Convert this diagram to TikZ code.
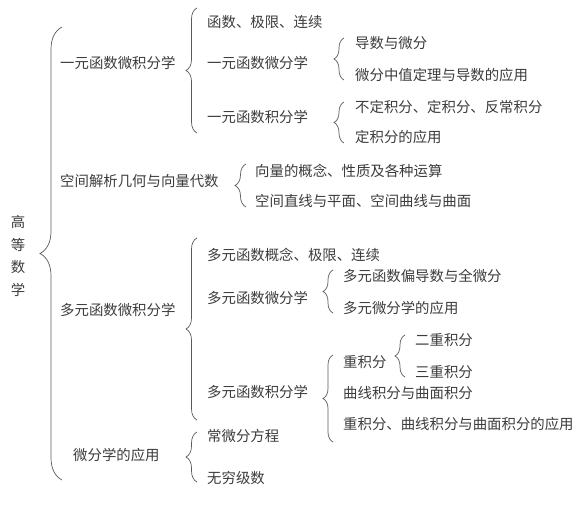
\documentclass[tikz,border=0pt]{standalone}
\usepackage{fontspec}
\newfontfamily\cjk{Noto Sans CJK SC}
\usetikzlibrary{decorations.pathreplacing, calc}
\definecolor{textGray}{RGB}{60, 60, 60}
\definecolor{braceGray}{RGB}{90, 90, 90}
\tikzset{
    % Text Styles
    item/.style={
        anchor=west,
        inner sep=0pt,
        font=\cjk\fontsize{14.4pt}{16pt}\selectfont,
        text=textGray
    },
    rootItem/.style={
        item, anchor=center, align=center,
        font=\cjk\fontsize{14.4pt}{22.4pt}\selectfont
    },
    % Brace Style
    brc/.style={
        decorate,
        decoration={brace, amplitude=#1},
        draw=braceGray,
        line width=0.7pt
    },
    brc/.default=11pt
}
\begin{document}
\begin{tikzpicture}[x=1pt, y=-1pt]

    \useasboundingbox (0,0) rectangle (580,510);

    % --- ROOT ---
    \node (root) [rootItem] at (18,256) {高\\等\\数\\学};

    % --- FIRST LEVEL ---
    \node (calcOne)   [item] at (60,63)  {一元函数微积分学};
    \node (geoVec)    [item] at (60,181) {空间解析几何与向量代数};
    \node (calcMulti) [item] at (60,310) {多元函数微积分学};
    \node (calcApp)   [item] at (73,455) {微分学的应用};

    % --- 一元函数微积分学 ---
    \node (oneLim)  [item] at (207,22)  {函数、极限、连续};
    \node (oneDiff) [item] at (207,63)  {一元函数微分学};
    \node (oneInt)  [item] at (207,117) {一元函数积分学};

    \node (diffA) [item] at (355,43)  {导数与微分};
    \node (diffB) [item] at (355,75)  {微分中值定理与导数的应用};
    \node (intA)  [item] at (355,107) {不定积分、定积分、反常积分};
    \node (intB)  [item] at (355,137) {定积分的应用};

    % --- 空间解析几何与向量代数 ---
    \node (vecA) [item] at (255,171) {向量的概念、性质及各种运算};
    \node (vecB) [item] at (255,201) {空间直线与平面、空间曲线与曲面};

    % --- 多元函数微积分学 ---
    \node (multiLim)  [item] at (207,255) {多元函数概念、极限、连续};
    \node (multiDiff) [item] at (207,298) {多元函数微分学};
    \node (multiInt)  [item] at (207,392) {多元函数积分学};

    \node (mdiffA) [item] at (343,276) {多元函数偏导数与全微分};
    \node (mdiffB) [item] at (343,308) {多元微分学的应用};
    \node (mintA)  [item] at (343,362) {重积分};
    \node (mintB)  [item] at (343,393) {曲线积分与曲面积分};
    \node (mintC)  [item] at (343,424) {重积分、曲线积分与曲面积分的应用};

    \node (dblInt) [item] at (415,340) {二重积分};
    \node (triInt) [item] at (415,372) {三重积分};

    % --- 微分学的应用 ---
    \node (odeEq)  [item] at (207,436) {常微分方程};
    \node (series) [item] at (207,478) {无穷级数};

    % --- Braces (bottom to top, tip to the left) ---
    \draw [brc=22pt] ($(calcOne.west |- calcApp.west)+(2,25)$) -- ($(calcOne.west)+(2,-36)$);

    \draw [brc] ($(oneInt.west)+(-10,16)$)   -- ($(oneLim.west)+(-10,-14)$);
    \draw [brc=10pt] ($(diffB.west)+(-11,5)$)   -- ($(diffA.west)+(-11,-5)$);
    \draw [brc=10pt] ($(intB.west)+(-11,6)$)    -- ($(intA.west)+(-11,-5)$);

    \draw [brc] ($(vecB.west)+(-9,6)$)      -- ($(vecA.west)+(-9,-7)$);

    \draw [brc] ($(multiInt.west)+(-10,28)$) -- ($(multiLim.west)+(-10,-17)$);
    \draw [brc=10pt] ($(mdiffB.west)+(-10,5)$)  -- ($(mdiffA.west)+(-10,-6)$);
    \draw [brc=10pt] ($(mintC.west)+(-10,18)$)  -- ($(mintA.west)+(-10,-7)$);
    \draw [brc=10pt] ($(triInt.west)+(-10,5)$)  -- ($(dblInt.west)+(-10,-5)$);

    \draw [brc] ($(series.west)+(-10,4)$)   -- ($(odeEq.west)+(-10,-4)$);

\end{tikzpicture}
\end{document}
